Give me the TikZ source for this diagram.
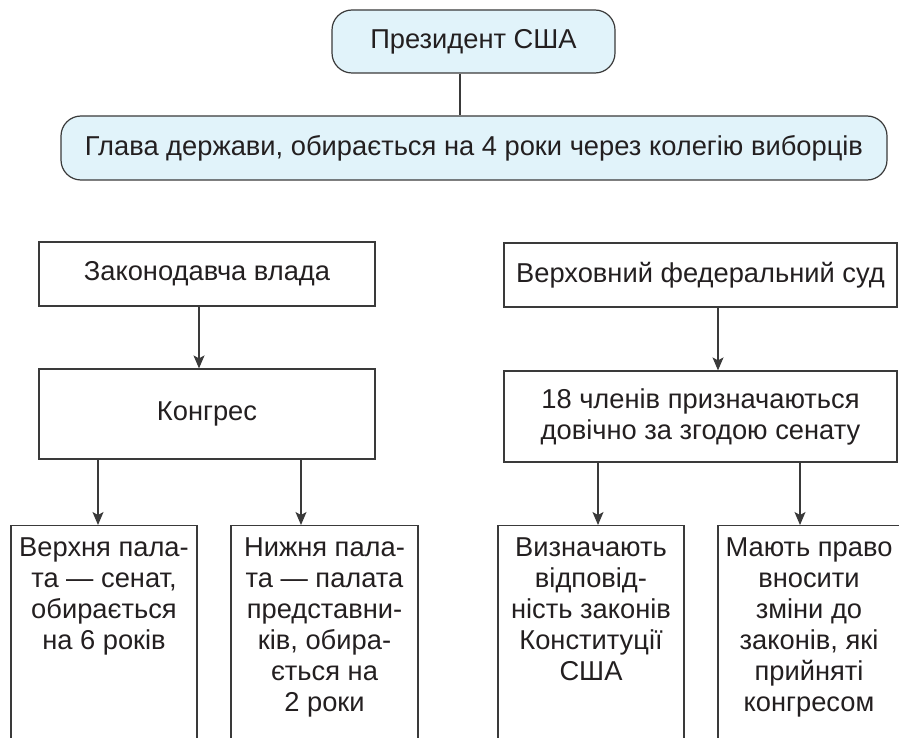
\documentclass[tikz,border=0pt]{standalone}
\usepackage{fontspec}
\setmainfont{Liberation Sans}
\usetikzlibrary{arrows.meta}
\definecolor{ln}{HTML}{3A3A3A}
\definecolor{tx}{HTML}{231F20}
\definecolor{lb}{HTML}{E1F3FA}
\begin{document}
\begin{tikzpicture}[x=1pt,y=-1pt,
  every node/.style={font=\fontsize{27.3}{31}\selectfont, text=tx, inner sep=0pt},
  rbox/.style={draw=ln, line width=1.2pt, fill=lb, rounded corners=20pt},
  sbox/.style={draw=ln, line width=1.2pt},
  btext/.style={align=center, anchor=north},
  arr/.style={draw=ln, line width=1.2pt, -{Stealth[length=13pt,width=11pt,inset=3pt]}},
  con/.style={draw=ln, line width=1.2pt}]
\useasboundingbox (0,0) rectangle (899,738);
\clip (0,0) rectangle (899,738);
% top
\node[rbox, minimum width=283pt, minimum height=63pt] (pres) at (473.5,41.5) {Президент США};
\node[rbox, minimum width=826pt, minimum height=64pt] (head) at (474,148) {Глава держави, обирається на 4 роки через колегію виборців};
\draw[con] (pres.south -| 460,0) -- (head.north -| 460,0);
% left
\node[sbox, minimum width=336pt, minimum height=64pt] (zak) at (207,274) {Законодавча влада};
\node[sbox, minimum width=336pt, minimum height=90pt] (kon) at (207,414) {Конгрес};
\draw[arr] (zak.south -| 199,0) -- (kon.north -| 199,0);
\node[sbox, minimum width=186pt, minimum height=260pt, anchor=north] (b1) at (104,525) {};
\node[sbox, minimum width=187pt, minimum height=260pt, anchor=north] (b2) at (324.5,525) {};
\draw[arr] (kon.south -| 98,0) -- (b1.north -| 98,0);
\draw[arr] (kon.south -| 301,0) -- (b2.north -| 301,0);
\node[btext] (t1) at ([yshift=-13pt]b1.north) {Верхня пала-\\та — сенат,\\обирається\\на 6 років};
\node[btext] (t2) at ([yshift=-13pt]b2.north) {Нижня пала-\\та — палата\\представни-\\ків, обира-\\ється на\\2 роки};
% right
\node[sbox, minimum width=393pt, minimum height=64pt] (ver) at (700.5,275) {Верховний федеральний суд};
\node[sbox, minimum width=393pt, minimum height=91pt, align=center] (mem) at (700.5,416.5) {18 членів призначаються\\довічно за згодою сенату};
\draw[arr] (ver.south -| 718,0) -- (mem.north -| 718,0);
\node[sbox, minimum width=186pt, minimum height=260pt, anchor=north] (b3) at (591,525) {};
\node[sbox, minimum width=190pt, minimum height=260pt, anchor=north] (b4) at (813,525) {};
\draw[arr] (mem.south -| 598,0) -- (b3.north -| 598,0);
\draw[arr] (mem.south -| 800,0) -- (b4.north -| 800,0);
\node[btext] (t3) at ([yshift=-13pt]b3.north) {Визначають\\відповід-\\ність законів\\Конституції\\США};
\node[btext] (t4) at ([yshift=-13pt,xshift=-4pt]b4.north) {Мають право\\вносити\\зміни до\\законів, які\\прийняті\\конгресом};
\end{tikzpicture}
\end{document}
